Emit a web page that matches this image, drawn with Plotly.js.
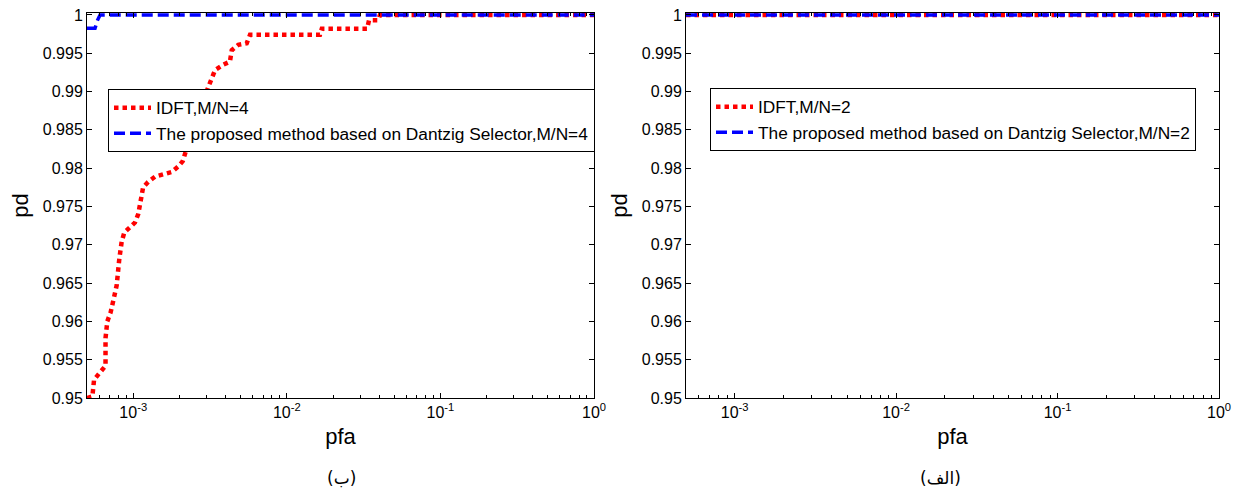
<!DOCTYPE html>
<html>
<head>
<meta charset="utf-8">
<script src="https://cdn.plot.ly/plotly-3.0.1.min.js"></script>
<style>html,body{margin:0;padding:0;background:#fff;}#chart{width:1239px;height:494px;}</style>
</head>
<body>
<div id="chart"></div>
<script>
// ---- data ----
const idft4_pfa = [5.0e-4, 5.42e-4, 5.56e-4, 6.08e-4, 6.6e-4, 6.6e-4, 6.6e-4, 6.78e-4, 7.13e-4, 7.55e-4, 7.8e-4, 8.11e-4, 8.41e-4, 8.75e-4, 9.53e-4, 1.026e-3, 1.078e-3, 1.106e-3, 1.12e-3, 1.16e-3, 1.25e-3, 1.39e-3, 1.57e-3, 1.78e-3, 1.96e-3, 2.10e-3, 2.20e-3, 2.28e-3, 2.52e-3, 2.84e-3, 3.16e-3, 3.41e-3, 3.86e-3, 4.26e-3, 4.38e-3, 4.83e-3, 5.48e-3, 5.76e-3, 0.01643, 0.0169, 0.0333, 0.0343, 0.0392, 0.0404, 1.0];
const idft4_pd  = [0.9500, 0.9502, 0.9524, 0.9533, 0.9542, 0.9554, 0.9578, 0.9600, 0.9612, 0.9634, 0.9647, 0.9681, 0.9704, 0.9716, 0.9722, 0.9729, 0.9740, 0.9752, 0.9763, 0.9775, 0.9782, 0.9789, 0.9792, 0.9795, 0.9802, 0.9809, 0.9822, 0.9832, 0.9862, 0.9888, 0.9910, 0.9928, 0.9935, 0.9939, 0.9954, 0.9961, 0.9963, 0.9974, 0.9974, 0.9982, 0.9982, 0.9993, 0.9993, 1.0, 1.0];
const ds4_pfa = [5.0e-4, 5.64e-4, 5.85e-4, 6.08e-4, 1.0];
const ds4_pd  = [0.99826, 0.99826, 0.9993, 1.0, 1.0];
const idft2_pfa = [5.0e-4, 1.0];
const idft2_pd  = [1.0, 1.0];
const ds2_pfa = [5.0e-4, 1.0];
const ds2_pd  = [1.0, 1.0];

const yTickVals = [0.95, 0.955, 0.96, 0.965, 0.97, 0.975, 0.98, 0.985, 0.99, 0.995, 1];
const yTickText = ['0.95', '0.955', '0.96', '0.965', '0.97', '0.975', '0.98', '0.985', '0.99', '0.995', '1'];
const xTickVals = [1e-3, 1e-2, 1e-1, 1];
const xTickText = ['10<sup>-3</sup>', '10<sup>-2</sup>', '10<sup>-1</sup>', '10<sup>0</sup>'];
const legendNames = ['IDFT,M/N=4', 'The proposed method based on Dantzig Selector,M/N=4', 'IDFT,M/N=2', 'The proposed method based on Dantzig Selector,M/N=2'];
const captions = ['(ب)', '(الف)'];

// minor tick values for the log axis
const minorVals = [];
for (let e = -4; e <= -1; e++) for (let d = 2; d <= 9; d++) { const v = d * Math.pow(10, e); if (v > 5e-4 && v < 1) minorVals.push(v); }

const FONT = 'Liberation Sans, Arial, sans-serif';
const red = {color: 'rgb(255,0,0)', width: 4.5, dash: '4.5px,4px'};
const blue = {color: 'rgb(0,0,255)', width: 3.5, dash: '11px,5px'};

const traces = [
  {x: idft4_pfa, y: idft4_pd, xaxis: 'x', yaxis: 'y', mode: 'lines', line: red, name: legendNames[0], legend: 'legend'},
  {x: ds4_pfa, y: ds4_pd, xaxis: 'x', yaxis: 'y', mode: 'lines', line: blue, name: legendNames[1], legend: 'legend'},
  {x: idft2_pfa, y: idft2_pd, xaxis: 'x2', yaxis: 'y2', mode: 'lines', line: red, name: legendNames[2], legend: 'legend2'},
  {x: ds2_pfa, y: ds2_pd, xaxis: 'x2', yaxis: 'y2', mode: 'lines', line: blue, name: legendNames[3], legend: 'legend2'}
];

function xax(domain, anchor) {
  return {
    type: 'log', domain: domain, anchor: anchor, range: [Math.log10(5e-4), 0],
    showgrid: false, zeroline: false, showline: true, linecolor: '#000', linewidth: 1, mirror: 'ticks',
    ticks: 'inside', ticklen: 5, tickcolor: '#000', tickvals: xTickVals, ticktext: xTickText,
    tickfont: {family: FONT, size: 16, color: '#000'},
    minor: {ticks: 'inside', ticklen: 3, tickcolor: '#000', tickvals: minorVals, showgrid: false},
    title: {text: 'pfa', font: {family: FONT, size: 22, color: '#000'}, standoff: 8}
  };
}
function yax(anchor) {
  return {
    domain: [0, 1], anchor: anchor, range: [0.95, 1.00025],
    showgrid: false, zeroline: false, showline: true, linecolor: '#000', linewidth: 1, mirror: 'ticks',
    ticks: 'inside', ticklen: 5, tickcolor: '#000', tickvals: yTickVals, ticktext: yTickText,
    tickfont: {family: FONT, size: 16, color: '#000'},
    title: {text: 'pd', font: {family: FONT, size: 22, color: '#000'}, standoff: 8}
  };
}

const legendBase = {
  bgcolor: '#fff', bordercolor: '#000', borderwidth: 1, xanchor: 'left', yanchor: 'top',
  font: {family: FONT, size: 17.3, color: '#000'}, tracegroupgap: 0, itemwidth: 37
};

const layout = {
  width: 1239, height: 494,
  margin: {l: 0, r: 0, t: 13, b: 96},
  paper_bgcolor: '#fff', plot_bgcolor: '#fff',
  showlegend: true,
  xaxis: xax([87/1239, 594/1239], 'y'),
  yaxis: yax('x'),
  xaxis2: xax([686/1239, 1219/1239], 'y2'),
  yaxis2: yax('x2'),
  legend: Object.assign({}, legendBase, {x: 108/1239, y: (398 - 89) / 385}),
  legend2: Object.assign({}, legendBase, {x: 710/1239, y: (398 - 88) / 385}),
  annotations: [
    {text: captions[0], xref: 'paper', yref: 'paper', x: 341/1239, y: (398 - 478) / 385, yanchor: 'middle', xanchor: 'center', showarrow: false, font: {family: 'DejaVu Sans, sans-serif', size: 17, color: '#000'}},
    {text: captions[1], xref: 'paper', yref: 'paper', x: 940/1239, y: (398 - 478) / 385, yanchor: 'middle', xanchor: 'center', showarrow: false, font: {family: 'DejaVu Sans, sans-serif', size: 17, color: '#000'}}
  ]
};

Plotly.newPlot('chart', traces, layout, {displayModeBar: false, staticPlot: true});
</script>
</body>
</html>
